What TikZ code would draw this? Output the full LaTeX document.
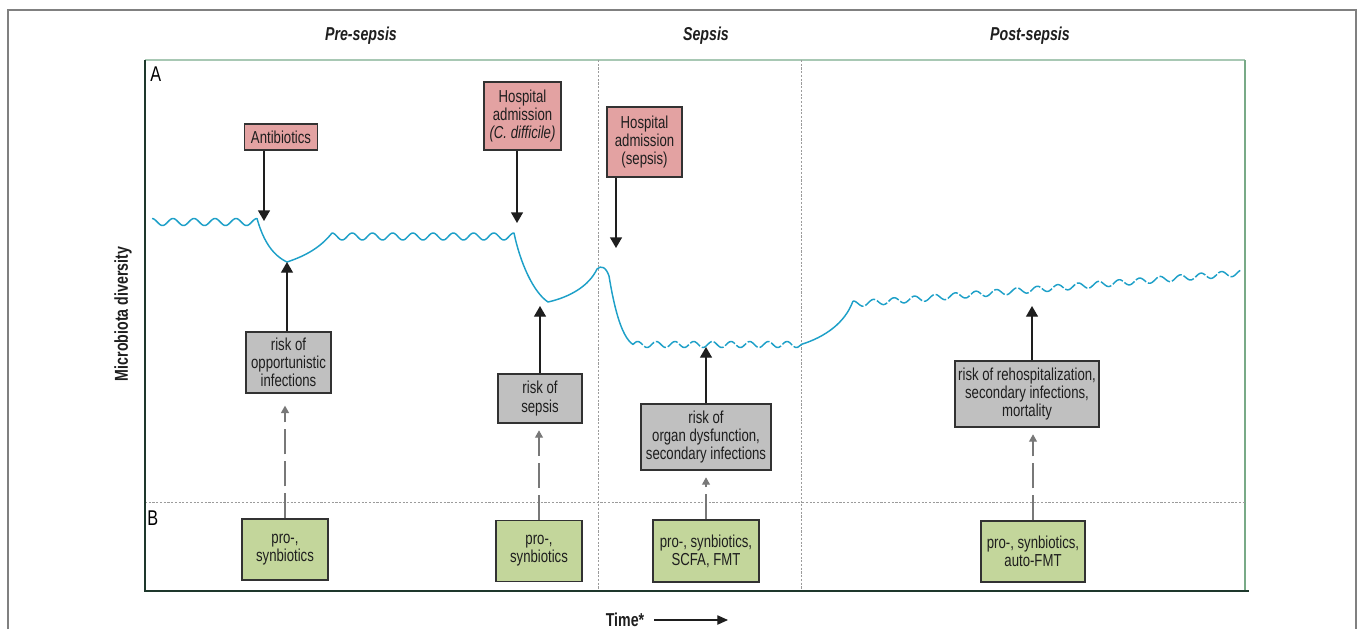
\documentclass[tikz,border=0pt]{standalone}
\usepackage{fontspec}
\setmainfont{Liberation Sans}[FakeStretch=0.76]
\usetikzlibrary{arrows.meta}
\definecolor{pinkfill}{RGB}{227,162,162}
\definecolor{grayfill}{RGB}{192,192,192}
\definecolor{greenfill}{RGB}{195,214,155}
\definecolor{boxdraw}{RGB}{50,50,50}
\definecolor{wavecol}{RGB}{30,160,200}
\definecolor{axisdark}{RGB}{30,56,44}
\definecolor{toplight}{RGB}{168,200,180}
\definecolor{rightgreen}{RGB}{120,170,135}
\definecolor{framegray}{RGB}{128,128,128}
\definecolor{divgray}{RGB}{155,155,155}
\definecolor{dashgray}{RGB}{120,120,120}
\definecolor{txt}{RGB}{30,30,30}
\begin{document}
\begin{tikzpicture}[x=0.75pt,y=-0.75pt,
  boxbase/.style={draw=boxdraw, line width=1pt, inner sep=0pt, align=center,
    text=txt, font=\fontsize{13}{13.6}\selectfont},
  pinkbox/.style={boxbase, fill=pinkfill},
  graybox/.style={boxbase, fill=grayfill},
  greenbox/.style={boxbase, fill=greenfill},
  bigarrow/.style={draw=txt, line width=1pt, -{Triangle[width=9pt,length=8pt]}},
  dasharrow/.style={draw=dashgray, line width=0.8pt, dash pattern=on 19pt off 5pt,
    -{Triangle[width=6pt,length=5.5pt]}},
  divider/.style={draw=divgray, line width=0.6pt, dash pattern=on 1.6pt off 1.2pt},
  wave/.style={draw=wavecol, line width=1.1pt, line join=round},
  title/.style={font=\fontsize{14}{16}\selectfont\bfseries\itshape, text=txt},
  panel/.style={font=\fontsize{16}{18}\selectfont, text=black, anchor=west, inner sep=0pt}
]
\useasboundingbox (0,0) rectangle (1358,629);

% outer frame
\draw[framegray, line width=1.3pt] (8,629) -- (8,10) -- (1356,10) -- (1356,629);

% plot frame
\draw[toplight, line width=1.1pt] (145,60) -- (1245,60);
\draw[rightgreen, line width=0.8pt] (1245,60) -- (1245,591);
\draw[divider] (598,60) -- (598,591);
\draw[divider] (801,60) -- (801,591);
\draw[divider] (145,502) -- (1245,502);
\draw[axisdark, line width=2.2pt] (145,60) -- (145,591) -- (1249,591);

% titles
\node[title] (tpre) at (361,36) {Pre-sepsis};
\node[title] (tsep) at (706,36) {Sepsis};
\node[title] (tpost) at (1030,36) {Post-sepsis};
\node[panel] (pA) at (150,74) {A};
\node[panel] (pB) at (147,518) {B};
\node[rotate=90, font=\fontsize{14}{16}\selectfont\bfseries, text=txt] (ylab) at (123,314) {Microbiota diversity};
\node[font=\fontsize{14}{16}\selectfont\bfseries, text=txt] (time) at (625,620) {Time*};
\coordinate (tend) at (728,620);
\draw[draw=txt, line width=0.8pt, -{Triangle[width=7pt,length=8pt]}] ([xshift=4pt]time.east) -- (tend);

% diversity curve
\draw[wave]
  plot[domain=152:257,samples=106] (\x,{222-3.5*cos(((\x-257)/21)*360)})
  .. controls (262,236) and (270,254) .. (287,262)
  .. controls (305,256) and (320,248) .. (332,233)
  -- plot[domain=332:514,samples=183] (\x,{236.5-3.5*cos(((\x-514)/20.22)*360)})
  .. controls (520,262) and (533,292) .. (548,302)
  .. controls (570,297) and (589,286) .. (597,269)
  .. controls (601,265) and (606,267) .. (609,276)
  .. controls (613,300) and (620,336) .. (633,344.5);
\draw[wave, dash pattern=on 9pt off 1.5pt]
  plot[domain=633:801,samples=169] (\x,{344.5-3*sin(((\x-633)/18.67)*360)});
\draw[wave] (801,344.5) .. controls (825,337) and (845,323) .. (853,301);
\draw[wave, dash pattern=on 9pt off 1.5pt]
  plot[domain=853:1242,samples=390] (\x,{304-0.08*(\x-853)-3*cos(((\x-853)/20.47)*360)});

% event boxes
\node[pinkbox, minimum width=54.75pt, minimum height=19.5pt] (abx) at (281,137) {Antibiotics};
\node[pinkbox, minimum width=57.75pt, minimum height=51pt] (cdiff) at (522.5,116) {Hospital\\admission\\\textit{(C. difficile)}};
\node[pinkbox, minimum width=56.25pt, minimum height=52.5pt] (hsep) at (644.5,142) {Hospital\\admission\\(sepsis)};

\coordinate (ta) at (264,221);
\coordinate (tc) at (517,223);
\coordinate (ts) at (616,248);
\draw[bigarrow] (abx.south -| ta) -- (ta);
\draw[bigarrow] (cdiff.south -| tc) -- (tc);
\draw[bigarrow] (hsep.south -| ts) -- (ts);

% risk boxes
\node[graybox, minimum width=63.75pt, minimum height=45.75pt] (opp) at (288.5,362.5) {risk of\\opportunistic\\infections};
\node[graybox, minimum width=63pt, minimum height=36.75pt] (rsep) at (540,398.5) {risk of\\sepsis};
\node[graybox, minimum width=97.5pt, minimum height=49.5pt] (organ) at (706,437) {risk of\\organ dysfunction,\\secondary infections};
\node[graybox, minimum width=108pt, minimum height=49.5pt] (rehosp) at (1027,394) {risk of rehospitalization,\\secondary infections,\\mortality};

\coordinate (c1) at (287,262);
\coordinate (c2) at (540,306);
\coordinate (c3) at (706,347);
\coordinate (c4) at (1032,306);
\draw[bigarrow] (opp.north -| c1) -- (c1);
\draw[bigarrow] (rsep.north -| c2) -- (c2);
\draw[bigarrow] (organ.north -| c3) -- (c3);
\draw[bigarrow] (rehosp.north -| c4) -- (c4);

% intervention boxes
\node[greenbox, minimum width=64.5pt, minimum height=45.75pt] (g1) at (285,549.5) {pro-,\\synbiotics};
\node[greenbox, minimum width=64.5pt, minimum height=45.75pt] (g2) at (539,551) {pro-,\\synbiotics};
\node[greenbox, minimum width=79.5pt, minimum height=46.5pt] (g3) at (706,551) {pro-, synbiotics,\\SCFA, FMT};
\node[greenbox, minimum width=78pt, minimum height=45.75pt] (g4) at (1033,551.5) {pro-, synbiotics,\\auto-FMT};

\draw[dasharrow, shorten >=9pt] (g1.north) -- (g1.north |- opp.south);
\draw[dasharrow, shorten >=5pt] (g2.north) -- (g2.north |- rsep.south);
\draw[dasharrow, shorten >=5pt] (g3.north) -- (g3.north |- organ.south);
\draw[dasharrow, shorten >=5pt] (g4.north) -- (g4.north |- rehosp.south);
\end{tikzpicture}
\end{document}
